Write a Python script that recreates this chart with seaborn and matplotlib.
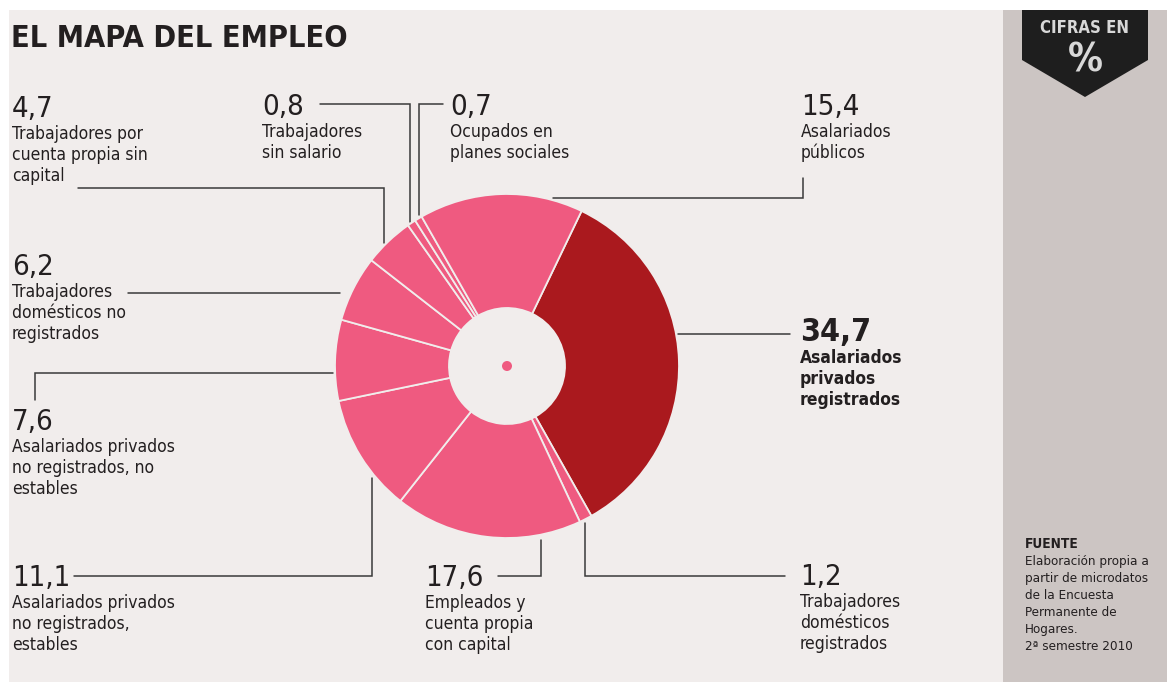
import matplotlib
matplotlib.use("Agg")
import matplotlib.pyplot as plt
from matplotlib import font_manager as fm
from matplotlib.patches import Rectangle, Polygon, Circle
import seaborn as sns

# ---------------- data ----------------
categories = [
    "Asalariados\nprivados\nregistrados",
    "Trabajadores\ndomésticos\nregistrados",
    "Empleados y\ncuenta propia\ncon capital",
    "Asalariados privados\nno registrados,\nestables",
    "Asalariados privados\nno registrados, no\nestables",
    "Trabajadores\ndomésticos no\nregistrados",
    "Trabajadores por\ncuenta propia sin\ncapital",
    "Trabajadores\nsin salario",
    "Ocupados en\nplanes sociales",
    "Asalariados\npúblicos",
]
values = [34.7, 1.2, 17.6, 11.1, 7.6, 6.2, 4.7, 0.8, 0.7, 15.4]
highlight = [True, False, False, False, False, False, False, False, False, False]

title = "EL MAPA DEL EMPLEO"
source_head = "FUENTE"
source_body = ("Elaboración propia a\npartir de microdatos\nde la Encuesta\n"
               "Permanente de\nHogares.\n2ª semestre 2010")

# ---------------- style ----------------
sns.set_theme(style="white")
names = {f.name for f in fm.fontManager.ttflist}
if "Liberation Sans Narrow" in names:
    FONT = "Liberation Sans Narrow"; STRETCH = "normal"
else:
    FONT = "DejaVu Sans"; STRETCH = "condensed"
plt.rcParams["font.family"] = [FONT, "DejaVu Sans"]

BG = "#F1EDEC"
PANEL = "#CCC5C3"
PINK = "#EF5A80"
DARK = "#AA191E"
TXT = "#231F20"
LINE = "#3A3A3A"

W, H = 1167, 682
fig = plt.figure(figsize=(W / 100, H / 100), dpi=100, facecolor="white")

bg = fig.add_axes([0, 0, 1, 1])
bg.set_xlim(0, W)
bg.set_ylim(H, 0)
bg.axis("off")
bg.add_patch(Rectangle((9, 10), 1003 - 9, H - 10, facecolor=BG, edgecolor="none"))
bg.add_patch(Rectangle((1003, 10), W - 1003, H - 10, facecolor=PANEL, edgecolor="none"))
bg.add_patch(Polygon([(1022, 10), (1148, 10), (1148, 60), (1085, 97), (1022, 60)],
                     closed=True, facecolor="#1E1E1E", edgecolor="none"))
bg.text(1085, 28, "CIFRAS EN", ha="center", va="center", fontsize=12,
        fontweight="bold", color="#D8D8D8", fontstretch=STRETCH)
bg.text(1085, 72, "%", ha="center", va="baseline", fontsize=28,
        fontweight="bold", color="#D8D8D8", fontstretch=STRETCH)

bg.text(11, 47, title, ha="left", va="baseline", fontsize=22, fontweight="bold",
        color=TXT, fontstretch=STRETCH)

bg.text(1025, 548, source_head, ha="left", va="baseline", fontsize=9.8,
        fontweight="bold", color=TXT, fontstretch=STRETCH)
bg.text(1025, 555, source_body, ha="left", va="top", fontsize=9.6,
        color=TXT, linespacing=1.4, fontstretch=STRETCH)

# ---------------- donut ----------------
cx, cy, R, r_in = 507, 366, 172, 58
pax = fig.add_axes([(cx - R) / W, (H - cy - R) / H, 2 * R / W, 2 * R / H])
colors = [DARK if h else PINK for h in highlight]
pax.pie(values, radius=1, startangle=64.3, counterclock=False, colors=colors,
        wedgeprops=dict(width=1 - r_in / R, edgecolor=BG, linewidth=1.3))
pax.add_patch(Circle((0, 0), 5 / R, facecolor=PINK, edgecolor="none"))
pax.set_xlim(-1, 1)
pax.set_ylim(-1, 1)
pax.set_aspect("equal")
pax.axis("off")

# ---------------- labels & leader lines ----------------
# (x, number baseline y) for each category, same order as values
label_pos = [(800, 341), (800, 585), (425, 586), (12, 586), (12, 430),
             (12, 275), (12, 117), (262, 115), (450, 115), (801, 115)]
leaders = [
    [(678, 334), (790, 334)],
    [(585, 523), (585, 576), (785, 576)],
    [(541, 540), (541, 576), (498, 576)],
    [(372, 478), (372, 576), (74, 576)],
    [(333, 373), (35, 373), (35, 400)],
    [(340, 293), (128, 293)],
    [(384, 243), (384, 188), (78, 188)],
    [(410, 222), (410, 104), (320, 104)],
    [(419, 215), (419, 104), (443, 104)],
    [(553, 198), (803, 198), (803, 178)],
]

for cat, v, hl, (x, y), pts in zip(categories, values, highlight, label_pos, leaders):
    num = f"{v:.1f}".replace(".", ",")
    bg.text(x, y, num, ha="left", va="baseline",
            fontsize=23 if hl else 21, fontweight="bold" if hl else "normal",
            color=TXT, fontstretch=STRETCH)
    bg.text(x, y + 8, cat, ha="left", va="top", fontsize=12.5,
            fontweight="bold" if hl else "normal", color=TXT,
            linespacing=1.2, fontstretch=STRETCH)
    xs, ys = zip(*pts)
    bg.plot(xs, ys, color=LINE, lw=1.1, solid_joinstyle="miter")

fig.savefig("out.png", dpi=100, facecolor="white")
